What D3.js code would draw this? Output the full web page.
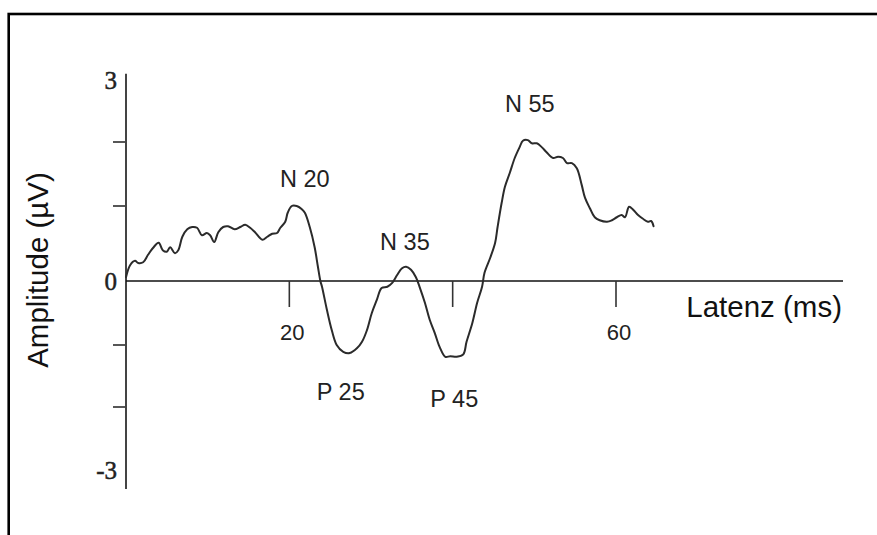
<!DOCTYPE html>
<html>
<head>
<meta charset="utf-8">
<script src="https://cdn.jsdelivr.net/npm/d3@7"></script>
<style>
  html, body { margin: 0; padding: 0; background: #fff; }
  svg { display: block; }
</style>
</head>
<body>
<svg id="chart" width="877" height="535"></svg>
<script>
// Evoked potential trace: latency in ms, amplitude in µV
const latency = [
  0.0, 0.5, 1.1, 1.5, 2.1, 2.7, 3.3, 4.0, 4.5, 5.0, 5.4, 6.0, 6.4, 6.9, 7.5,
  8.1, 8.7, 9.3, 9.9, 10.3, 10.8, 11.3, 11.9, 12.5, 13.3, 14.0, 14.6, 15.2,
  15.8, 16.7, 17.3, 17.9, 18.5, 18.9, 19.5, 19.8, 20.3, 20.9, 21.5, 21.9,
  22.5, 23.1, 23.5, 23.8, 24.0, 24.6, 25.2, 25.8, 26.6, 27.4, 28.3, 28.9,
  29.5, 30.1, 30.7, 31.3, 32.0, 32.6, 33.2, 33.8, 34.3, 34.9, 35.5, 36.0,
  36.6, 37.2, 37.8, 38.4, 39.1, 39.7, 40.5, 41.3, 41.7, 42.4, 43.0, 43.6,
  43.9, 44.6, 45.2, 45.5, 46.0, 46.4, 47.0, 47.6, 48.2, 48.6, 49.2, 49.7,
  50.3, 50.9, 51.5, 52.3, 52.9, 53.5, 54.0, 54.6, 55.2, 55.8, 56.2, 56.8,
  57.4, 58.0, 58.9, 59.5, 60.1, 60.7, 61.1, 61.6, 62.1, 62.7, 63.3, 63.9,
  64.3, 64.6
];
const amplitude = [
  0.05, 0.21, 0.27, 0.24, 0.25, 0.35, 0.44, 0.51, 0.41, 0.39, 0.45, 0.37, 0.41,
  0.59, 0.69, 0.72, 0.71, 0.61, 0.64, 0.61, 0.52, 0.65, 0.72, 0.73, 0.69,
  0.72, 0.75, 0.71, 0.65, 0.55, 0.59, 0.63, 0.64, 0.71, 0.79, 0.91, 1.00,
  1.00, 0.96, 0.91, 0.72, 0.45, 0.19, 0.00, -0.09, -0.45, -0.77, -1.00,
  -1.11, -1.13, -1.05, -0.95, -0.77, -0.50, -0.30, -0.11, -0.09, -0.03,
  0.08, 0.17, 0.19, 0.15, 0.05, -0.11, -0.34, -0.61, -0.81, -1.03, -1.19,
  -1.18, -1.19, -1.15, -0.95, -0.66, -0.34, -0.09, 0.11, 0.31, 0.51, 0.72,
  1.05, 1.30, 1.52, 1.75, 1.92, 2.02, 2.03, 1.98, 1.98, 1.92, 1.84, 1.75,
  1.77, 1.75, 1.67, 1.67, 1.59, 1.33, 1.13, 0.97, 0.85, 0.81, 0.79, 0.81,
  0.85, 0.88, 0.85, 0.99, 0.95, 0.88, 0.83, 0.79, 0.80, 0.73
];

// Axis ticks
const xTicks = [20, 40, 60];
const xTickLabels = ["20", "", "60"];
const yTicks = [-2, -1, 1, 2];
const yTickLabels = [3, 0, -3];

// Peak names, placed in data units
const peakNames = ["N 20", "P 25", "N 35", "P 45", "N 55"];
const peakLatency = [21.9, 26.3, 34.15, 40.2, 49.45];
const peakAmplitude = [1.30, -1.89, 0.41, -2.0, 2.48];

const svg = d3.select("#chart");

// Outer frame (only its top and left edges fall inside the view)
svg.append("rect")
  .attr("x", 8.7).attr("y", 14)
  .attr("width", 1000).attr("height", 1000)
  .attr("fill", "none")
  .attr("stroke", "#000")
  .attr("stroke-width", 2.6);

const x = d3.scaleLinear().domain([0, 60]).range([126, 616]);
// hand-spaced amplitude grid
const y = d3.scaleLinear()
  .domain([-3, -2, -1, 0, 1, 2, 3])
  .range([470, 407, 345, 281, 206, 142, 80]);

// Vertical axis
svg.append("line")
  .attr("x1", x(0)).attr("x2", x(0))
  .attr("y1", y(3.1)).attr("y2", y(-3.3))
  .attr("stroke", "#444").attr("stroke-width", 2);

svg.selectAll("line.ytick").data(yTicks).join("line")
  .attr("class", "ytick")
  .attr("x1", x(0) - 13).attr("x2", x(0))
  .attr("y1", d => y(d)).attr("y2", d => y(d))
  .attr("stroke", "#444").attr("stroke-width", 1.8);

svg.selectAll("text.ylab").data(yTickLabels).join("text")
  .attr("class", "ylab")
  .attr("x", x(0) - 9)
  .attr("y", d => y(d) + 8.5)
  .attr("text-anchor", "end")
  .attr("font-family", "'Liberation Serif', 'DejaVu Serif', serif")
  .attr("font-size", 25)
  .attr("fill", "#222")
  .attr("stroke", "#222")
  .attr("stroke-width", 0.5)
  .text(d => d);

// Horizontal axis
svg.append("line")
  .attr("x1", x(0)).attr("x2", x(87.8))
  .attr("y1", y(0)).attr("y2", y(0))
  .attr("stroke", "#111").attr("stroke-width", 1.6);

svg.selectAll("line.xtick").data(xTicks).join("line")
  .attr("class", "xtick")
  .attr("x1", d => x(d)).attr("x2", d => x(d))
  .attr("y1", y(0)).attr("y2", y(0) + 26)
  .attr("stroke", "#333").attr("stroke-width", 1.6);

svg.selectAll("text.xlab").data(xTicks).join("text")
  .attr("class", "xlab")
  .attr("x", d => x(d) + 3)
  .attr("y", y(0) + 59)
  .attr("text-anchor", "middle")
  .attr("font-family", "'Liberation Sans', Arial, sans-serif")
  .attr("font-size", 22)
  .attr("fill", "#222")
  .text((d, i) => xTickLabels[i]);

// Axis titles
svg.append("text")
  .attr("x", x(87.8) - 1)
  .attr("y", y(0) + 36)
  .attr("text-anchor", "end")
  .attr("font-family", "'Liberation Sans', Arial, sans-serif")
  .attr("font-size", 29.5)
  .attr("fill", "#111")
  .text("Latenz (ms)");

svg.append("text")
  .attr("transform", "translate(48," + 270 + ") rotate(-90)")
  .attr("text-anchor", "middle")
  .attr("font-family", "'Liberation Sans', Arial, sans-serif")
  .attr("font-size", 29.5)
  .attr("fill", "#111")
  .text("Amplitude (µV)");

// Trace
const points = latency.map((t, i) => [t, amplitude[i]]);
const line = d3.line()
  .x(d => x(d[0]))
  .y(d => y(d[1]))
  .curve(d3.curveCatmullRom.alpha(0.5));

svg.append("path")
  .datum(points)
  .attr("d", line)
  .attr("fill", "none")
  .attr("stroke", "#2b2b2b")
  .attr("stroke-width", 2)
  .attr("stroke-linejoin", "round")
  .attr("stroke-linecap", "round");

// Peak names
svg.selectAll("text.peak").data(peakNames).join("text")
  .attr("class", "peak")
  .attr("x", (d, i) => x(peakLatency[i]))
  .attr("y", (d, i) => y(peakAmplitude[i]))
  .attr("text-anchor", "middle")
  .attr("font-family", "'Liberation Sans', Arial, sans-serif")
  .attr("font-size", 23.5)
  .attr("fill", "#222")
  .text(d => d);
</script>
</body>
</html>
